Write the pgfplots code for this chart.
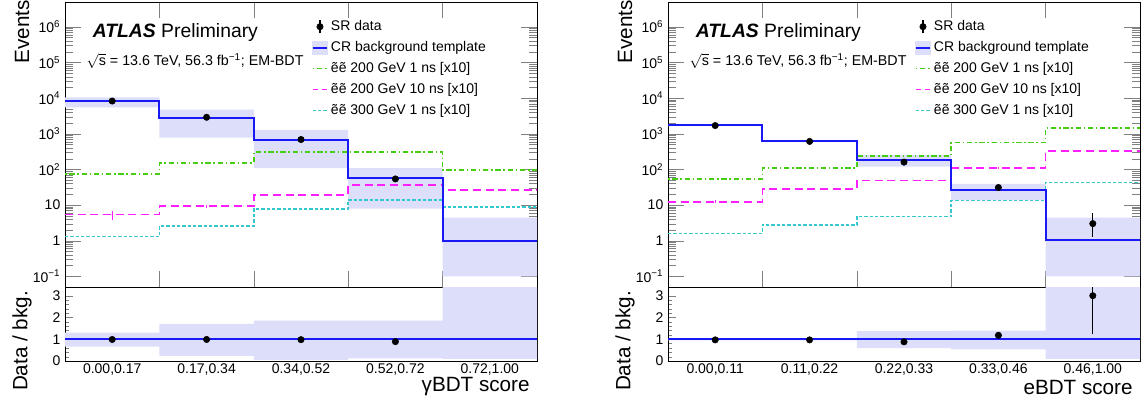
\documentclass[border=0pt]{standalone}
\usepackage{fontspec}
\setmainfont{Liberation Sans}
\usepackage{pgfplots}
\usepackage{pgfplotstable}
\pgfplotsset{compat=1.18}

\definecolor{bkgblue}{RGB}{25,25,245}
\definecolor{bandcol}{RGB}{220,222,250}
\definecolor{sigA}{RGB}{70,205,20}
\definecolor{sigB}{RGB}{255,30,255}
\definecolor{sigC}{RGB}{50,200,205}

% step histograms (last row repeated to close the last bin)
\pgfplotstableread{
x bkg g m c
0 8200 74 5.4 1.31
1 2800 152 9.2 2.6
2 690 304 19.5 7.8
3 57 304 37 14
4 1.0 94 26 8.7
5 1.0 94 26 8.7
}\histG
% uncertainty band outlines: upper edge left to right, lower edge back
\pgfplotstableread{
bx by
0 10500
1 10500
1 4800
2 4800
2 1280
3 1280
3 109
4 109
4 4.4
5 4.4
5 0.1
4 0.1
4 7.9
3 7.9
3 109
2 109
2 780
1 780
1 5500
0 5500
}\bandG
\pgfplotstableread{
bx by
0 1.30
1 1.30
1 1.71
2 1.71
2 1.85
4 1.85
4 4.4
5 4.4
5 0.1
4 0.1
4 0.12
3 0.12
3 0.05
2 0.05
2 0.23
1 0.23
1 0.66
0 0.66
}\rbandG
\pgfplotstableread{
xc d dp dm r rp rm m mp mm
0.5 8300 91 91 0.99 0.02 0.02 5.4 1.6 1.5
1.5 2900 54 54 0.99 0.03 0.03 9.2 1.0 1.0
2.5 690 26 26 0.98 0.05 0.05 19.5 1.5 1.5
3.5 54 7.3 7.3 0.89 0.1 0.1 37 2.5 2.5
4.5 nan nan nan nan nan nan 26 2 2
}\ptsG

\pgfplotstableread{
x bkg g m c
0 1730 54 12.4 1.6
1 617 109 28 2.8
2 182 240 49 4.8
3 26 565 109 13.3
4 1.06 1420 330 43
5 1.06 1420 330 43
}\histE
\pgfplotstableread{
bx by
0 1820
1 1820
1 650
2 650
2 256
3 256
3 39
4 39
4 4.4
5 4.4
5 0.1
4 0.1
4 14
3 14
3 120
2 120
2 585
1 585
1 1640
0 1640
}\bandE
\pgfplotstableread{
bx by
0 1.05
2 1.05
2 1.37
3 1.37
3 1.40
4 1.40
4 4.4
5 4.4
5 0.1
4 0.1
4 0.54
3 0.54
3 0.59
2 0.59
2 0.95
0 0.95
}\rbandE
\pgfplotstableread{
xc d dp dm r rp rm m mp mm
0.5 1700 41 41 0.97 0.03 0.03 12.4 1.0 1.0
1.5 610 25 25 0.97 0.04 0.04 28 2 2
2.5 160 13 13 0.88 0.07 0.07 49 3 3
3.5 31 5.6 5.6 1.18 0.14 0.12 109 6 6
4.5 3.0 3.0 1.7 3.0 2.7 1.75 330 15 15
}\ptsE

\newcommand{\tfont}{\fontsize{10.5}{12}\selectfont}
\newcommand{\bigfont}{\fontsize{15.5}{18}\selectfont}
\newcommand{\ylog}{10\textsuperscript{−1},1,10,10\textsuperscript{2},10\textsuperscript{3},10\textsuperscript{4},10\textsuperscript{5},10\textsuperscript{6}}

\pgfplotsset{
  /pgf/number format/assume math mode=true,
  every axis/.append style={font=\tfont, scale only axis, width=354pt,
    xmin=0, xmax=5, tick align=inside, clip mode=individual},
}

\begin{document}
\begin{tikzpicture}
\path[use as bounding box] (-48.75pt,-87pt) rectangle (812.25pt,215.25pt);

% ---------------- left: gamma BDT ----------------
\begin{axis}[at={(0pt,0pt)}, anchor=south west, height=213.75pt, ymode=log, ymin=0.05, ymax=5e6,
    ytick={0.1,1,10,100,1000,10000,100000,1000000}, yticklabels/.expand once=\ylog,
    major tick length=12pt, minor tick length=6pt,
    xtick={1,2,3,4}, xticklabels={},
    legend style={at={(0.522,0.945)}, anchor=north west, draw=none, fill=none,
      font=\tfont, row sep=2.6pt, inner sep=0pt},
    legend cell align=left]
\addplot[fill=bandcol, draw=none, forget plot] table[x=bx,y=by]{\bandG};
\addplot[sigA, line width=1.3pt, dash pattern=on 1.2pt off 2pt on 4pt off 2pt, const plot, forget plot] table[x=x,y=g]{\histG};
\addplot[sigB, line width=1.3pt, dash pattern=on 6pt off 3.5pt, const plot, forget plot] table[x=x,y=m]{\histG};
\addplot[sigC, line width=1.3pt, dash pattern=on 2.5pt off 1.5pt, const plot, forget plot] table[x=x,y=c]{\histG};
\addplot[draw=none, mark=none, forget plot, error bars/.cd, y dir=both, y explicit, error mark=none,
  error bar style={draw=sigB, solid, line width=0.8pt}] table[x=xc,y=m,y error plus=mp,y error minus=mm]{\ptsG};
\addplot[bkgblue, line width=1.5pt, const plot, forget plot] table[x=x,y=bkg]{\histG};
\addplot[black, only marks, mark=*, mark size=2.4pt, forget plot, error bars/.cd, y dir=both, y explicit,
  error mark=none, error bar style={black, line width=0.8pt}] table[x=xc,y=d,y error plus=dp,y error minus=dm]{\ptsG};
\addlegendimage{legend image code/.code={\draw[black, line width=0.8pt] (5.5pt,-5pt)--(5.5pt,5pt); \fill[black] (5.5pt,0pt) circle (2.4pt);}}
\addlegendentry{SR data}
\addlegendimage{legend image code/.code={\fill[bandcol] (0pt,-5pt) rectangle (11pt,5pt); \draw[bkgblue, line width=1.5pt] (0pt,0pt)--(11pt,0pt);}}
\addlegendentry{CR background template}
\addlegendimage{legend image code/.code={\draw[sigA, line width=1.3pt, dash pattern=on 1.2pt off 2pt on 4pt off 2pt] (0pt,0pt)--(11pt,0pt);}}
\addlegendentry{ẽẽ 200 GeV 1 ns [x10]}
\addlegendimage{legend image code/.code={\draw[sigB, line width=1.3pt, dash pattern=on 4pt off 3pt] (0pt,0pt)--(11pt,0pt);}}
\addlegendentry{ẽẽ 200 GeV 10 ns [x10]}
\addlegendimage{legend image code/.code={\draw[sigC, line width=1.3pt, dash pattern=on 2.5pt off 1.5pt] (0pt,0pt)--(11pt,0pt);}}
\addlegendentry{ẽẽ 300 GeV 1 ns [x10]}
\node[anchor=base west, font=\fontsize{14.5}{17}\selectfont] at (rel axis cs:0.049,0.877) {\textbf{\textit{ATLAS}} Preliminary};
\node[anchor=base west, font=\fontsize{10.7}{12}\selectfont] at (rel axis cs:0.036,0.776) {$\sqrt{\mbox{s}}$ = 13.6 TeV, 56.3 fb\textsuperscript{−1}; EM-BDT};
\node[xshift=-32.25pt, yshift=1.5pt, rotate=90, anchor=east, inner sep=0pt, font=\bigfont] at (rel axis cs:0,1) {Events};
\end{axis}

\begin{axis}[at={(0pt,0pt)}, anchor=north west, height=55.5pt, ymin=0, ymax=3.4,
    ytick={0,1,2,3}, minor y tick num=4, major tick length=6pt, minor tick length=3pt,
    xtick={0.5,1.5,2.5,3.5,4.5}, xtick pos=bottom, xtick style={draw=none},
    minor xtick={1,2,3,4},
    xticklabels={0.00\rlap{,}\phantom{,}0.17,0.17\rlap{,}\phantom{,}0.34,0.34\rlap{,}\phantom{,}0.52,0.52\rlap{,}\phantom{,}0.72,0.72\rlap{,}\phantom{,}1.00},
    xticklabel style={anchor=base, yshift=-9pt}]
\addplot[fill=bandcol, draw=none] table[x=bx,y=by]{\rbandG};
\addplot[bkgblue, line width=1.5pt] coordinates {(0,1) (5,1)};
\addplot[black, only marks, mark=*, mark size=2.4pt, error bars/.cd, y dir=both, y explicit,
  error mark=none, error bar style={black, line width=0.8pt}] table[x=xc,y=r,y error plus=rp,y error minus=rm]{\ptsG};
\node[anchor=east, font=\bigfont, xshift=-2pt, yshift=-19.5pt] at (rel axis cs:1,0) {γBDT score};
\node[xshift=-32.25pt, yshift=-12.75pt, rotate=90, font=\bigfont] at (rel axis cs:0,0.5) {Data / bkg.};
\end{axis}

% ---------------- right: e BDT ----------------
\begin{axis}[at={(452.25pt,0pt)}, anchor=south west, height=213.75pt, ymode=log, ymin=0.05, ymax=5e6,
    ytick={0.1,1,10,100,1000,10000,100000,1000000}, yticklabels/.expand once=\ylog,
    major tick length=12pt, minor tick length=6pt,
    xtick={1,2,3,4}, xticklabels={},
    legend style={at={(0.522,0.945)}, anchor=north west, draw=none, fill=none,
      font=\tfont, row sep=2.6pt, inner sep=0pt},
    legend cell align=left]
\addplot[fill=bandcol, draw=none, forget plot] table[x=bx,y=by]{\bandE};
\addplot[sigA, line width=1.3pt, dash pattern=on 1.2pt off 2pt on 4pt off 2pt, const plot, forget plot] table[x=x,y=g]{\histE};
\addplot[sigB, line width=1.3pt, dash pattern=on 6pt off 3.5pt, const plot, forget plot] table[x=x,y=m]{\histE};
\addplot[sigC, line width=1.3pt, dash pattern=on 2.5pt off 1.5pt, const plot, forget plot] table[x=x,y=c]{\histE};
\addplot[draw=none, mark=none, forget plot, error bars/.cd, y dir=both, y explicit, error mark=none,
  error bar style={draw=sigB, solid, line width=0.8pt}] table[x=xc,y=m,y error plus=mp,y error minus=mm]{\ptsE};
\addplot[bkgblue, line width=1.5pt, const plot, forget plot] table[x=x,y=bkg]{\histE};
\addplot[black, only marks, mark=*, mark size=2.4pt, forget plot, error bars/.cd, y dir=both, y explicit,
  error mark=none, error bar style={black, line width=0.8pt}] table[x=xc,y=d,y error plus=dp,y error minus=dm]{\ptsE};
\addlegendimage{legend image code/.code={\draw[black, line width=0.8pt] (5.5pt,-5pt)--(5.5pt,5pt); \fill[black] (5.5pt,0pt) circle (2.4pt);}}
\addlegendentry{SR data}
\addlegendimage{legend image code/.code={\fill[bandcol] (0pt,-5pt) rectangle (11pt,5pt); \draw[bkgblue, line width=1.5pt] (0pt,0pt)--(11pt,0pt);}}
\addlegendentry{CR background template}
\addlegendimage{legend image code/.code={\draw[sigA, line width=1.3pt, dash pattern=on 1.2pt off 2pt on 4pt off 2pt] (0pt,0pt)--(11pt,0pt);}}
\addlegendentry{ẽẽ 200 GeV 1 ns [x10]}
\addlegendimage{legend image code/.code={\draw[sigB, line width=1.3pt, dash pattern=on 4pt off 3pt] (0pt,0pt)--(11pt,0pt);}}
\addlegendentry{ẽẽ 200 GeV 10 ns [x10]}
\addlegendimage{legend image code/.code={\draw[sigC, line width=1.3pt, dash pattern=on 2.5pt off 1.5pt] (0pt,0pt)--(11pt,0pt);}}
\addlegendentry{ẽẽ 300 GeV 1 ns [x10]}
\node[anchor=base west, font=\fontsize{14.5}{17}\selectfont] at (rel axis cs:0.049,0.877) {\textbf{\textit{ATLAS}} Preliminary};
\node[anchor=base west, font=\fontsize{10.7}{12}\selectfont] at (rel axis cs:0.036,0.776) {$\sqrt{\mbox{s}}$ = 13.6 TeV, 56.3 fb\textsuperscript{−1}; EM-BDT};
\node[xshift=-32.25pt, yshift=1.5pt, rotate=90, anchor=east, inner sep=0pt, font=\bigfont] at (rel axis cs:0,1) {Events};
\end{axis}

\begin{axis}[at={(452.25pt,0pt)}, anchor=north west, height=55.5pt, ymin=0, ymax=3.4,
    ytick={0,1,2,3}, minor y tick num=4, major tick length=6pt, minor tick length=3pt,
    xtick={0.5,1.5,2.5,3.5,4.5}, xtick pos=bottom, xtick style={draw=none},
    minor xtick={1,2,3,4},
    xticklabels={0.00\rlap{,}\phantom{,}0.11,0.11\rlap{,}\phantom{,}0.22,0.22\rlap{,}\phantom{,}0.33,0.33\rlap{,}\phantom{,}0.46,0.46\rlap{,}\phantom{,}1.00},
    xticklabel style={anchor=base, yshift=-9pt}]
\addplot[fill=bandcol, draw=none] table[x=bx,y=by]{\rbandE};
\addplot[bkgblue, line width=1.5pt] coordinates {(0,1) (5,1)};
\addplot[black, only marks, mark=*, mark size=2.4pt, error bars/.cd, y dir=both, y explicit,
  error mark=none, error bar style={black, line width=0.8pt}] table[x=xc,y=r,y error plus=rp,y error minus=rm]{\ptsE};
\node[anchor=east, font=\bigfont, xshift=-2pt, yshift=-19.5pt] at (rel axis cs:1,0) {eBDT score};
\node[xshift=-32.25pt, yshift=-12.75pt, rotate=90, font=\bigfont] at (rel axis cs:0,0.5) {Data / bkg.};
\end{axis}
\end{tikzpicture}
\end{document}
